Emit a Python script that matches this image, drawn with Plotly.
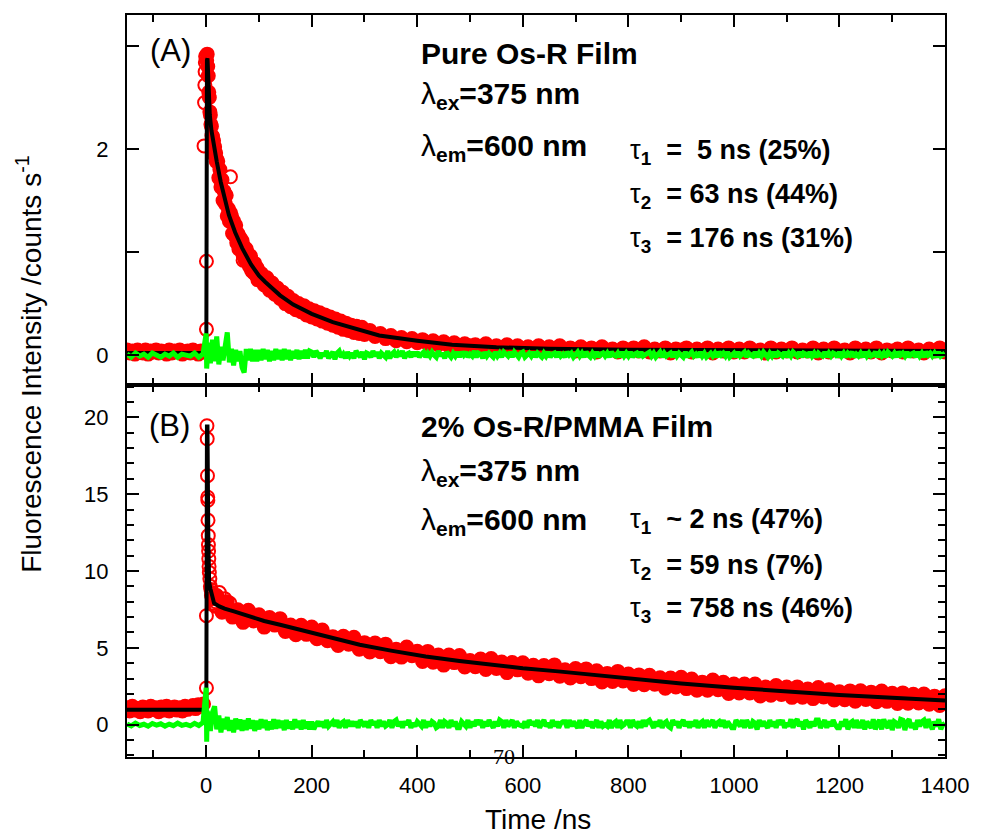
import plotly.graph_objects as go

# ---------------- Panel A: pure Os-R film ----------------
# measured decay (counts), baseline before the pulse
a_t_pre = list(range(-150, 0, 5))
a_y_pre = [0.05, 0.02, 0.04, 0.01, 0.05, 0.03, 0.02, 0.05, 0.01, 0.04,
           0.03, 0.05, 0.02, 0.04, 0.03, 0.01, 0.05, 0.02, 0.04, 0.03,
           0.05, 0.01, 0.03, 0.04, 0.02, 0.05, 0.03, 0.01, 0.04, 0.03]
# isolated points: rising edge, maximum and two stray channels
a_t_peak = [-4, -3, -2.5, -2, -1.5, -1, 0.5, 0.5, 46, 70]
a_y_peak = [2.03, 2.45, 2.62, 2.75, 2.84, 2.90, 0.91, 0.25, 1.73, 0.92]
# decay channels 1..20 ns (1 ns), 22..100 ns (2 ns), 105..300 ns (5 ns), 310..1400 ns (10 ns)
a_t_decay = (list(range(1, 21)) + list(range(22, 102, 2)) + list(range(105, 305, 5))
             + list(range(310, 1401, 10)))
a_y_decay = [2.86, 2.92, 2.80, 2.71, 2.55, 2.50, 2.36, 2.33, 2.24, 2.22,
             2.13, 2.12, 2.04, 2.08, 1.99, 2.02, 1.93, 1.96, 1.88, 1.90,
             1.88, 1.72, 1.80, 1.63, 1.70, 1.50, 1.59, 1.47, 1.55, 1.35,
             1.42, 1.30, 1.38, 1.35, 1.18, 1.30, 1.16, 1.26, 1.09, 1.18,
             1.03, 1.14, 1.03, 1.11, 0.97, 1.05, 0.92, 1.03, 0.90, 0.98,
             0.86, 0.96, 0.82, 0.90, 0.80, 0.89, 0.78, 0.85, 0.73, 0.81,
             0.79, 0.68, 0.75, 0.63, 0.70, 0.59, 0.65, 0.55, 0.61, 0.50,
             0.57, 0.47, 0.53, 0.44, 0.50, 0.42, 0.48, 0.39, 0.45, 0.37,
             0.43, 0.35, 0.41, 0.33, 0.39, 0.31, 0.37, 0.29, 0.35, 0.27,
             0.33, 0.25, 0.31, 0.24, 0.29, 0.22, 0.28, 0.21, 0.27, 0.20,
             0.24, 0.18, 0.21, 0.16, 0.19, 0.14, 0.17, 0.13, 0.16, 0.12,
             0.15, 0.11, 0.14, 0.10, 0.13, 0.09, 0.12, 0.08, 0.11, 0.09,
             0.10, 0.07, 0.11, 0.06, 0.09, 0.07, 0.10, 0.05, 0.09, 0.06,
             0.08, 0.05, 0.09, 0.04, 0.08, 0.06, 0.09, 0.05, 0.07, 0.04,
             0.08, 0.05, 0.07, 0.03, 0.08, 0.05, 0.06, 0.03, 0.07, 0.04,
             0.07, 0.04, 0.08, 0.03, 0.06, 0.04, 0.07, 0.02, 0.06, 0.05,
             0.07, 0.03, 0.06, 0.04, 0.07, 0.02, 0.06, 0.04, 0.07, 0.03,
             0.06, 0.03, 0.07, 0.04, 0.05, 0.02, 0.07, 0.03, 0.06, 0.04,
             0.07, 0.03, 0.05, 0.04, 0.07, 0.02, 0.06, 0.03, 0.07, 0.04,
             0.05, 0.02, 0.07, 0.04, 0.06, 0.03, 0.07, 0.02, 0.05, 0.04,
             0.06, 0.03, 0.07, 0.04, 0.05, 0.02, 0.06, 0.04, 0.07, 0.03]
# tri-exponential fit curve
a_fit_t = [-150, 0.3, 1.5, 2.5, 4.4, 6.9, 10, 15, 20, 27.6, 35, 43, 55, 68, 85, 100,
           112, 140, 165, 200, 240, 280, 328, 400, 466, 550, 650, 800, 1000, 1200, 1400]
a_fit_y = [0.02, 0.02, 2.86, 2.88, 2.65, 2.33, 2.18, 2.01, 1.88, 1.68, 1.52, 1.36, 1.19, 1.04, 0.88, 0.77,
           0.71, 0.58, 0.49, 0.40, 0.32, 0.26, 0.19, 0.14, 0.10, 0.076, 0.062, 0.052, 0.046, 0.043, 0.04]
# fit residuals (same channel grid for both panels)
res_t = list(range(-150, 0, 8)) + [0, 1, 2, 3] + list(range(4, 200, 4)) + list(range(200, 1401, 4))
a_res_pre = [0.01, -0.02, 0.02, -0.01, 0.01, -0.02, 0.02, 0.00, -0.02, 0.01,
             -0.01, 0.02, -0.02, 0.01, 0.00, -0.01, 0.02, -0.02, 0.01]
a_res_spike = [0.21, -0.13, 0.12, -0.06]
a_res_early = [0.12, -0.08, 0.15, -0.06, 0.18, -0.09, 0.08, -0.05, 0.10, 0.22,
               -0.07, 0.06, -0.10, 0.05, -0.06, 0.04, -0.12, -0.17, 0.06, -0.05,
               0.06, -0.06, 0.05, -0.06, 0.05, -0.05, 0.06, -0.04, 0.05, -0.06,
               0.04, -0.05, 0.06, -0.04, 0.05, -0.05, 0.06, -0.04, 0.05, -0.05,
               0.04, -0.03, 0.05, -0.04, 0.04, -0.03, 0.05, -0.03, 0.04]
a_res_late = [0.03, -0.02, 0.04, 0.01, -0.03, 0.02, -0.01, 0.04, -0.03, 0.00,
              0.03, -0.04, 0.02, 0.04, -0.02, 0.01, -0.03, 0.03, -0.01, 0.02,
              -0.03, 0.04, 0.00, -0.02, 0.03, -0.04, 0.02, 0.01, -0.02, 0.04,
              -0.01, 0.03, -0.03, 0.02, 0.00, -0.02, 0.04, -0.03, 0.01, 0.03,
              -0.02, 0.02, -0.01, 0.04, -0.03, 0.01, 0.02, -0.02, 0.03, -0.01,
              0.03, -0.02, 0.01, 0.03, -0.02, 0.02, -0.01, 0.03, 0.00, -0.02,
              0.04, -0.01, 0.02, -0.03, 0.03, 0.01, -0.02, 0.02, -0.01, 0.03,
              -0.02, 0.03, 0.00, 0.03, -0.02, 0.01, -0.01, 0.04, -0.02, 0.02,
              0.01, -0.03, 0.03, -0.01, 0.02, 0.00, -0.02, 0.03, -0.01, 0.02,
              -0.02, 0.03, 0.01, -0.01, 0.03, -0.02, 0.03, 0.00, -0.02, 0.02,
              0.03, -0.02, 0.01, 0.02, -0.01, 0.03, -0.02, 0.02, 0.00, -0.02,
              0.02, -0.01, 0.03, -0.02, 0.01, 0.02, -0.02, 0.03, -0.01, 0.01,
              -0.02, 0.03, 0.00, 0.02, -0.02, 0.01, 0.03, -0.01, 0.02, -0.02,
              0.03, 0.00, -0.02, 0.02, -0.01, 0.03, -0.02, 0.01, 0.02, -0.01,
              0.02, -0.02, 0.03, 0.00, -0.01, 0.02, -0.02, 0.03, -0.01, 0.02,
              -0.01, 0.03, -0.02, 0.01, 0.02, -0.02, 0.03, -0.01, 0.00, 0.02,
              0.03, -0.01, 0.02, -0.02, 0.01, 0.03, -0.02, 0.02, -0.01, 0.00,
              0.02, -0.02, 0.03, -0.01, 0.02, 0.00, -0.02, 0.03, -0.02, 0.01,
              0.03, -0.01, 0.01, -0.02, 0.03, -0.01, 0.02, -0.02, 0.01, 0.02,
              -0.01, 0.02, -0.02, 0.03, 0.00, 0.02, -0.01, 0.03, -0.02, 0.01,
              0.02, -0.02, 0.03, -0.01, 0.01, 0.03, -0.02, 0.02, 0.00, -0.01,
              0.03, -0.02, 0.02, -0.01, 0.03, 0.00, -0.02, 0.02, -0.01, 0.03,
              -0.02, 0.02, 0.01, -0.01, 0.03, -0.02, 0.02, -0.01, 0.03, 0.00,
              -0.01, 0.03, -0.02, 0.02, 0.01, -0.02, 0.03, -0.01, 0.02, -0.02,
              0.02, 0.00, -0.01, 0.03, -0.02, 0.02, -0.01, 0.02, 0.01, -0.02,
              0.03, -0.01, 0.02, -0.02, 0.02, 0.00, 0.03, -0.02, 0.01, -0.01,
              0.02, -0.02, 0.03, -0.01, 0.02, -0.01, 0.00, 0.03, -0.02, 0.02,
              -0.01, 0.02, -0.02, 0.03, 0.01, -0.01, 0.02, -0.02, 0.03, 0.00,
              0.02, -0.01, 0.03, -0.02, 0.01, 0.02, -0.02, 0.03, -0.01, 0.02,
              -0.02, 0.03, 0.00, 0.02, -0.01, 0.02, -0.02, 0.03, -0.01, 0.01,
              0.02]

# ---------------- Panel B: 2% Os-R in PMMA ----------------
b_t_pre = list(range(-150, 0, 5))
b_y_pre = [1.1, 0.9, 1.2, 0.95, 1.05, 0.85, 1.15, 1.0, 0.9, 1.2,
           1.0, 1.1, 0.85, 1.15, 0.95, 1.2, 0.9, 1.05, 1.15, 0.95,
           1.1, 0.9, 1.2, 1.0, 1.1, 1.25, 1.05, 1.3, 1.2, 1.35]
b_t_peak = [0.5, 0.5, 1.5, 2.0, 2.5, 3.0, 3.2, 3.5, 4.0, 4.3, 4.6, 5.0, 5.5, 6, 7,
            8, 9, 10, 11, 12, 13, 14, 15, 16, 17, 18, 19, 25, 35, 45]
b_y_peak = [2.39, 7.09, 19.45, 18.6, 16.2, 14.8, 14.6, 13.3, 12.3, 11.7, 11.3, 10.8, 10.3, 9.9, 9.5,
            9.0, 8.8, 8.4, 8.6, 8.2, 8.5, 7.9, 8.3, 7.8, 8.2, 8.0, 7.7, 8.6, 8.2, 7.9]
b_t_main = list(range(20, 1401, 10))
b_y_main = [8.4, 7.32, 8.0, 7.0, 7.48, 6.66, 7.45, 6.75, 7.15, 6.35,
            6.97, 6.48, 6.9, 6.07, 6.48, 5.85, 6.47, 5.88, 6.35, 5.6,
            6.16, 5.47, 5.73, 5.15, 5.76, 5.23, 5.69, 4.91, 5.34, 4.73,
            5.32, 4.75, 5.24, 4.42, 4.91, 4.4, 5.05, 4.49, 4.78, 4.12,
            4.77, 4.07, 4.53, 3.88, 4.54, 4.04, 4.5, 3.76, 4.17, 3.77,
            4.28, 3.59, 4.3, 3.66, 4.08, 3.39, 4.05, 3.57, 4.03, 3.35,
            3.87, 3.18, 3.85, 3.32, 3.89, 3.16, 3.57, 3.04, 3.65, 3.12,
            3.63, 3.0, 3.51, 2.78, 3.34, 2.81, 3.47, 2.84, 3.3, 2.62,
            3.24, 2.6, 3.22, 2.64, 3.06, 2.38, 3.04, 2.46, 3.08, 2.35,
            2.97, 2.25, 2.77, 2.24, 2.91, 2.28, 2.76, 2.03, 2.65, 2.07,
            2.65, 2.07, 2.65, 1.87, 2.45, 1.92, 2.55, 1.97, 2.45, 1.78,
            2.46, 1.79, 2.32, 1.7, 2.42, 1.8, 2.28, 1.61, 2.14, 1.62,
            2.2, 1.53, 2.21, 1.64, 2.12, 1.5, 2.19, 1.52, 2.05, 1.38,
            2.07, 1.4, 1.98, 1.41, 2.0, 1.33, 1.86, 1.25, 1.88]
b_fit_t = [-150, 0.3, 1.5, 2.5, 4, 5.6, 8, 11, 15, 25, 35, 52.6, 80, 110, 140, 165, 200,
           240, 291, 350, 416, 480, 541, 600, 667, 729, 800, 900, 1000, 1100, 1200, 1300, 1400]
b_fit_y = [0.98, 0.98, 19.4, 19.4, 12.5, 9.3, 8.85, 8.35, 7.9, 7.7, 7.55, 7.37, 7.05, 6.75, 6.5, 6.29, 6.0,
           5.63, 5.2, 4.82, 4.44, 4.15, 3.9, 3.68, 3.47, 3.25, 3.0, 2.68, 2.40, 2.15, 1.94, 1.75, 1.58]
b_res_pre = [0.05, -0.08, 0.1, -0.05, 0.03, -0.1, 0.08, -0.03, 0.06, -0.09,
             0.04, -0.06, 0.1, -0.04, 0.02, -0.07, 0.09, -0.05, 0.15]
b_res_spike = [2.4, -1.1, 0.9, -0.6]
b_res_early = [0.5, -0.4, 0.8, 1.2, -0.3, 0.6, -0.5, 0.4, -0.3, 0.5,
               -0.4, 0.3, -0.5, 0.4, -0.3, 0.35, -0.4, 0.3, -0.35, 0.4,
               -0.25, 0.3, -0.4, 0.25, -0.3, 0.35, -0.2, 0.3, -0.35, 0.2,
               -0.3, 0.35, -0.25, 0.3, -0.2, 0.25, -0.35, 0.3, -0.25, 0.2,
               -0.3, 0.35, -0.2, 0.25, -0.3, 0.3, -0.25, 0.2, -0.3]
b_res_late = [0.2, -0.3, 0.0, 0.2, -0.1, 0.2, -0.2, 0.3, -0.1, 0.1,
              0.2, -0.1, 0.3, -0.2, 0.1, 0.2, -0.2, 0.3, -0.1, 0.2,
              -0.1, 0.2, -0.2, 0.3, 0.1, -0.1, 0.2, -0.2, 0.3, 0.0,
              0.2, -0.2, 0.3, -0.1, 0.2, -0.1, 0.0, 0.3, -0.2, 0.2,
              0.3, -0.1, 0.2, -0.2, 0.2, 0.0, 0.3, -0.2, 0.1, -0.1,
              0.2, 0.0, -0.1, 0.3, -0.2, 0.2, -0.1, 0.2, 0.1, -0.2,
              -0.1, 0.3, -0.2, 0.2, 0.1, -0.2, 0.3, -0.1, 0.2, -0.2,
              -0.2, 0.2, 0.1, -0.1, 0.3, -0.2, 0.2, -0.1, 0.3, 0.0,
              0.3, -0.2, 0.2, -0.1, 0.3, 0.0, -0.2, 0.2, -0.1, 0.3,
              0.2, -0.2, 0.3, -0.1, 0.1, 0.3, -0.2, 0.2, 0.0, -0.1,
              -0.1, 0.2, -0.2, 0.3, 0.0, 0.2, -0.1, 0.3, -0.2, 0.1,
              0.3, -0.1, 0.1, -0.2, 0.3, -0.1, 0.2, -0.2, 0.1, 0.2,
              0.2, -0.2, 0.3, -0.1, 0.2, 0.0, -0.2, 0.3, -0.2, 0.1,
              0.3, -0.1, 0.2, -0.2, 0.1, 0.3, -0.2, 0.2, -0.1, 0.0,
              -0.1, 0.3, -0.2, 0.1, 0.2, -0.2, 0.3, -0.1, 0.0, 0.2,
              0.2, -0.2, 0.3, 0.0, -0.1, 0.2, -0.2, 0.3, -0.1, 0.2,
              0.3, 0.0, -0.2, 0.2, -0.1, 0.3, -0.2, 0.1, 0.2, -0.1,
              -0.2, 0.3, 0.0, 0.2, -0.2, 0.1, 0.3, -0.1, 0.2, -0.2,
              0.2, -0.1, 0.3, -0.2, 0.1, 0.2, -0.2, 0.3, -0.1, 0.1,
              0.3, -0.2, 0.1, 0.2, -0.1, 0.3, -0.2, 0.2, 0.0, -0.2,
              -0.2, 0.3, 0.1, -0.1, 0.3, -0.2, 0.3, 0.0, -0.2, 0.2,
              0.1, -0.3, 0.3, -0.1, 0.2, 0.0, -0.2, 0.3, -0.1, 0.2,
              -0.2, 0.3, 0.0, 0.3, -0.2, 0.1, -0.1, 0.35, -0.2, 0.2,
              0.35, -0.1, 0.2, -0.3, 0.3, 0.1, -0.2, 0.2, -0.1, 0.3,
              0.3, -0.2, 0.1, 0.3, -0.2, 0.2, -0.1, 0.3, 0.0, -0.2,
              -0.2, 0.2, -0.1, 0.35, -0.3, 0.1, 0.2, -0.2, 0.3, -0.1,
              -0.1, 0.3, -0.3, 0.2, 0.0, -0.2, 0.35, -0.3, 0.1, 0.3,
              -0.3, 0.35, 0.0, -0.2, 0.3, -0.35, 0.2, 0.1, -0.2, 0.35,
              0.3, -0.35, 0.2, 0.35, -0.2, 0.1, -0.3, 0.3, -0.1, 0.2,
              0.3, -0.2, 0.35, 0.1, -0.3, 0.2, -0.1, 0.35, -0.3, 0.0,
              0.1]

# ---------------- axis ticks ----------------
x_tick_vals = [0, 200, 400, 600, 800, 1000, 1200, 1400]
x_tick_text = ["0", "200", "400", "600", "800", "1000", "1200", "1400"]
x_minor_vals = [-100, 100, 300, 500, 700, 900, 1100, 1300]
a_tick_vals = [0, 2]
a_tick_text = ["0", "2"]
a_minor_vals = [1, 3]
b_tick_vals = [0, 5, 10, 15, 20]
b_tick_text = ["0", "5", "10", "15", "20"]
b_minor_vals = [-2, -1, 1, 2, 3, 4, 6, 7, 8, 9, 11, 12, 13, 14, 16, 17, 18, 19, 21, 22]

RED = "#ff0000"
GREEN = "#00ff00"
FONT = "Liberation Sans, Arial, sans-serif"
DOT = 13

fig = go.Figure()


def add_panel(xa, ya, runs, points, fit_t, fit_y, res_y):
    run_t, run_y = [], []
    for t, y in runs:
        run_t += list(t)
        run_y += list(y)
    # densely sampled channels: overlapping filled discs form the solid red band
    fig.add_trace(go.Scatter(
        x=run_t, y=run_y, mode="markers", xaxis=xa, yaxis=ya,
        marker=dict(symbol="circle", size=DOT, color=RED, line=dict(width=0)),
        showlegend=False, hoverinfo="skip"))
    # open circles for every channel
    pt_t, pt_y = list(run_t), list(run_y)
    for t, y in points:
        pt_t += list(t)
        pt_y += list(y)
    fig.add_trace(go.Scatter(
        x=pt_t, y=pt_y, mode="markers", xaxis=xa, yaxis=ya,
        marker=dict(symbol="circle-open", size=DOT, color=RED,
                    line=dict(width=2, color=RED)),
        showlegend=False, hoverinfo="skip"))
    fig.add_trace(go.Scatter(
        x=fit_t, y=fit_y, mode="lines", xaxis=xa, yaxis=ya,
        line=dict(color="black", width=4), showlegend=False, hoverinfo="skip"))
    fig.add_trace(go.Scatter(
        x=res_t, y=res_y, mode="lines", xaxis=xa, yaxis=ya,
        line=dict(color=GREEN, width=5), showlegend=False, hoverinfo="skip"))


add_panel("x2", "y2",
          [(a_t_pre, a_y_pre), (a_t_decay, a_y_decay)],
          [(a_t_peak, a_y_peak)],
          a_fit_t, a_fit_y,
          a_res_pre + a_res_spike + a_res_early + a_res_late)
add_panel("x", "y",
          [(b_t_pre, b_y_pre), (b_t_main, b_y_main)],
          [(b_t_peak, b_y_peak)],
          b_fit_t, b_fit_y,
          b_res_pre + b_res_spike + b_res_early + b_res_late)

W, H = 981, 834
L, R, T, B = 127, 29, 15, 77
PW, PH = W - L - R, H - T - B
split = (757 - 385) / PH

axis_common = dict(showline=True, linecolor="black", linewidth=2, mirror="allticks",
                   ticks="inside", ticklen=12, tickwidth=2, tickcolor="black",
                   showgrid=False, zeroline=False,
                   tickfont=dict(family=FONT, size=22, color="black"))
minor_x = dict(tickvals=x_minor_vals, ticks="inside", ticklen=7, tickwidth=2, tickcolor="black")

fig.update_layout(
    width=W, height=H,
    margin=dict(l=L, r=R, t=T, b=B),
    paper_bgcolor="white", plot_bgcolor="white",
    showlegend=False,
    xaxis=dict(axis_common, range=[-150, 1400], anchor="y",
               tickmode="array", tickvals=x_tick_vals, ticktext=x_tick_text,
               minor=minor_x, ticklabelstandoff=8),
    xaxis2=dict(axis_common, range=[-150, 1400], anchor="y2", matches="x",
                tickmode="array", tickvals=x_tick_vals, showticklabels=False,
                minor=minor_x),
    yaxis=dict(axis_common, range=[-2.1, 22.1], domain=[0, split], anchor="x",
               tickmode="array", tickvals=b_tick_vals, ticktext=b_tick_text,
               minor=dict(tickvals=b_minor_vals, ticks="inside", ticklen=7,
                          tickwidth=2, tickcolor="black"),
               ticklabelstandoff=12),
    yaxis2=dict(axis_common, range=[-0.29, 3.30], domain=[split, 1], anchor="x2",
                tickmode="array", tickvals=a_tick_vals, ticktext=a_tick_text,
                minor=dict(tickvals=a_minor_vals, ticks="inside", ticklen=12,
                           tickwidth=2, tickcolor="black"),
                ticklabelstandoff=12),
)


def px(x):
    return (x - L) / PW


def py(y):
    return (H - B - y) / PH


def label(text, x, y, size, bold=True, xanchor="left", family=FONT, angle=0):
    fig.add_annotation(text=text, xref="paper", yref="paper", x=px(x), y=py(y),
                       xanchor=xanchor, yanchor="middle", showarrow=False,
                       textangle=angle,
                       font=dict(family=family, size=size, color="black",
                                 weight="bold" if bold else "normal"))


THIN = '<span style="font-weight:normal">{}</span>'
NB = "\u00a0"
TAU = THIN.format("τ")
LAM = THIN.format("λ")

# panel A text
label("(A)", 148, 51, 31, bold=False)
label("Pure Os-R Film", 421, 54, 30)
label(LAM + "<sub>ex</sub>=375 nm", 421, 95, 30)
label(LAM + "<sub>em</sub>=600 nm", 421, 147, 30)
label(TAU + "<sub>1</sub>" + NB * 2 + "=" + NB * 2 + "5 ns (25%)", 632, 152, 27)
label(TAU + "<sub>2</sub>" + NB * 2 + "= 63 ns (44%)", 632, 196, 27)
label(TAU + "<sub>3</sub>" + NB * 2 + "= 176 ns (31%)", 632, 240, 27)

# panel B text
label("(B)", 147, 425, 31, bold=False)
label("2% Os-R/PMMA Film", 421, 426, 30)
label(LAM + "<sub>ex</sub>=375 nm", 421, 472, 30)
label(LAM + "<sub>em</sub>=600 nm", 421, 521, 30)
label(TAU + "<sub>1</sub>" + NB * 2 + "~ 2 ns (47%)", 632, 521, 27)
label(TAU + "<sub>2</sub>" + NB * 2 + "= 59 ns (7%)", 632, 567, 27)
label(TAU + "<sub>3</sub>" + NB * 2 + "= 758 ns (46%)", 632, 610, 27)

# axis titles and page number
label("Fluorescence Intensity /counts s<sup>-1</sup>", 28, 364, 28, bold=False,
      xanchor="center", angle=-90)
label("Time /ns", 542, 819, 28, bold=False, xanchor="center")
label("70", 507, 756, 22, bold=False, xanchor="center",
      family="Liberation Serif, Times New Roman, serif")

fig.write_html("out.html")
